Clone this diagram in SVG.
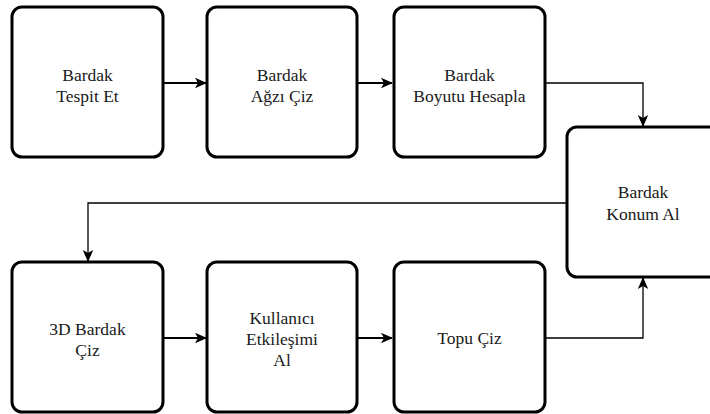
<svg xmlns="http://www.w3.org/2000/svg" width="710" height="414" viewBox="0 0 710 414">
  <style>
    .box { fill: #ffffff; stroke: #000000; stroke-width: 3; }
    .lbl { font-family: 'Times New Roman', Times, 'Liberation Serif', 'Noto Serif', 'DejaVu Serif', serif; font-size: 17.5px; fill: #1a1a1a; text-anchor: middle; }
    .wire { fill: none; stroke: #000000; stroke-width: 1.3; }
    .wire-bold { fill: none; stroke: #000000; stroke-width: 2; }
  </style>
  <defs>
    <marker id="head" viewBox="0 0 12 12" refX="11" refY="6" markerWidth="12" markerHeight="12" markerUnits="userSpaceOnUse" orient="auto">
      <path d="M0,0.8 L12,6 L0,11.2 L3,6 Z" fill="#000000"/>
    </marker>
  </defs>
  <rect width="710" height="414" fill="#ffffff"/>

  <!-- connectors -->
  <g id="connectors">
    <path class="wire-bold" d="M163,83 H206" marker-end="url(#head)"/>
    <path class="wire-bold" d="M357,83 H392" marker-end="url(#head)"/>
    <path class="wire" d="M545,83 H643 V126" marker-end="url(#head)"/>
    <path class="wire" d="M567,203 H88 V261" marker-end="url(#head)"/>
    <path class="wire-bold" d="M163,338 H206" marker-end="url(#head)"/>
    <path class="wire-bold" d="M357,338 H392" marker-end="url(#head)"/>
    <path class="wire" d="M545,338 H643 V278" marker-end="url(#head)"/>
  </g>

  <!-- top row -->
  <g id="bardak-tespit">
    <rect class="box" x="12" y="7" width="151" height="150" rx="10"/>
    <text class="lbl" x="87.5" y="81">Bardak</text>
    <text class="lbl" x="87.5" y="101.5">Tespit Et</text>
  </g>
  <g id="bardak-agzi">
    <rect class="box" x="207" y="7" width="150" height="150" rx="10"/>
    <text class="lbl" x="282" y="81">Bardak</text>
    <text class="lbl" x="282" y="101.5">Ağzı Çiz</text>
  </g>
  <g id="bardak-boyutu">
    <rect class="box" x="394" y="7" width="151" height="150" rx="10"/>
    <text class="lbl" x="469.5" y="81">Bardak</text>
    <text class="lbl" x="469.5" y="101.5">Boyutu Hesapla</text>
  </g>

  <!-- right column -->
  <g id="bardak-konum">
    <rect class="box" x="567" y="127" width="152" height="150" rx="10"/>
    <text class="lbl" x="643" y="198">Bardak</text>
    <text class="lbl" x="643" y="219.5">Konum Al</text>
  </g>

  <!-- bottom row -->
  <g id="bardak-3d">
    <rect class="box" x="12" y="262" width="151" height="150" rx="10"/>
    <text class="lbl" x="87.5" y="335">3D Bardak</text>
    <text class="lbl" x="87.5" y="355.5">Çiz</text>
  </g>
  <g id="kullanici">
    <rect class="box" x="207" y="262" width="150" height="150" rx="10"/>
    <text class="lbl" x="282" y="323.5">Kullanıcı</text>
    <text class="lbl" x="282" y="344.5">Etkileşimi</text>
    <text class="lbl" x="282" y="365.5">Al</text>
  </g>
  <g id="topu-ciz">
    <rect class="box" x="394" y="262" width="151" height="150" rx="10"/>
    <text class="lbl" x="469.5" y="344">Topu Çiz</text>
  </g>
</svg>
